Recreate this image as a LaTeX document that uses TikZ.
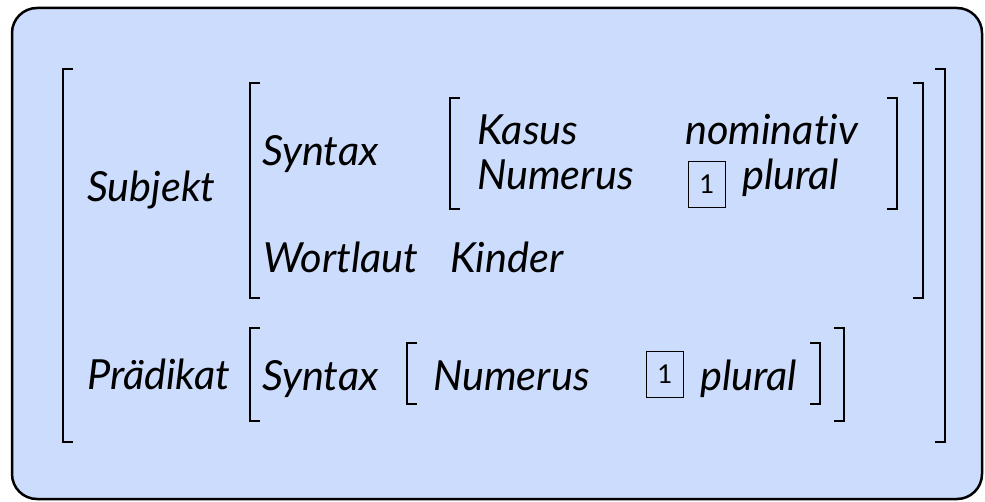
\documentclass[tikz,border=0pt]{standalone}
\usepackage{fontspec}
\setmainfont{Lato}[Ligatures={NoCommon}]

% square brackets of the attribute-value matrices
\newcommand{\avmopen}[3]{\draw[brack] (#1+10,#2) -- (#1,#2) -- (#1,#3) -- (#1+10,#3);}
\newcommand{\avmclose}[3]{\draw[brack] (#1-10,#2) -- (#1,#2) -- (#1,#3) -- (#1-10,#3);}

\definecolor{avmbg}{RGB}{204,220,252}

\begin{document}
\begin{tikzpicture}
    [x=1pt, y=-1pt,
     feat/.style={anchor=base west, inner sep=0pt, font=\fontsize{41.5}{46}\selectfont\itshape},
     brack/.style={line width=2.6pt, line cap=butt},
     tag/.style={draw, line width=0.8pt, inner sep=0pt, minimum width=37pt, minimum height=46pt,
                 font=\fontsize{26}{28}\selectfont}]
    \useasboundingbox (0,0) rectangle (985,502);
    \draw[fill=avmbg, line width=2.5pt, rounded corners=25pt] (12,8) rectangle (982,499);

    % Subjekt
    \node[feat] (subj) at (87,202) {Subjekt};
    \node[feat] (syn1) at (262,166) {Syntax};
    \node[feat] (kasus) at (477,145) {Kasus};
    \node[feat] (nomi) at (685,145) {nominativ};
    \node[feat] (num1) at (477,190) {Numerus};
    \node[tag] (tag1) at (707,184) {1};
    \node[feat] (pl1) at (742,190) {plural};
    \node[feat] (wort) at (263,273) {Wortlaut};
    \node[feat] (kinder) at (450,273) {Kinder};

    % Prädikat
    \node[feat] (praed) at (87,389) {Prädikat};
    \node[feat] (syn2) at (262,390) {Syntax};
    \node[feat] (num2) at (433,390) {Numerus};
    \node[tag] (tag2) at (665,374) {1};
    \node[feat] (pl2) at (700,390) {plural};

    % brackets
    \avmopen{63}{69}{442}   \avmclose{945}{69}{442}
    \avmopen{250}{83}{298}  \avmclose{923}{83}{298}
    \avmopen{450}{98}{209}  \avmclose{897}{98}{209}
    \avmopen{250}{328}{421} \avmclose{844}{328}{421}
    \avmopen{407}{343}{404} \avmclose{820}{343}{404}
\end{tikzpicture}
\end{document}
